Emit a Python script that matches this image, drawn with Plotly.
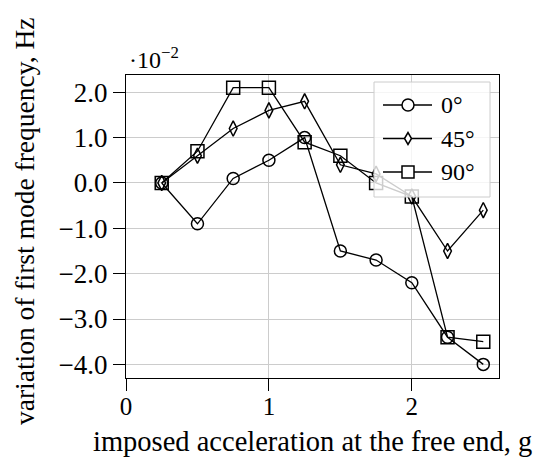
import plotly.graph_objects as go

# Imposed acceleration at the free end (g)
accel = [0.25, 0.5, 0.75, 1.0, 1.25, 1.5, 1.75, 2.0, 2.25, 2.5]

# Variation of first mode frequency (x 1e-2 Hz) per orientation
freq_0 = [0.0, -0.9, 0.1, 0.5, 1.0, -1.5, -1.7, -2.2, -3.4, -4.0]
freq_45 = [0.0, 0.6, 1.2, 1.6, 1.8, 0.4, 0.2, -0.3, -1.5, -0.6]
freq_90 = [0.0, 0.7, 2.1, 2.1, 0.9, 0.6, 0.0, -0.3, -3.4, -3.5]

series_names = ["0°", "45°", "90°"]
y_ticks = [-4, -3, -2, -1, 0, 1, 2]
x_ticks = [0, 1, 2]

FONT = "Liberation Serif"
W, H = 544, 459
ML, MR, MT, MB = 126, 45, 75, 81
PW, PH = W - ML - MR, H - MT - MB


def px_x(p):
    """Pixel column -> paper x."""
    return (p - ML) / PW


def px_y(p):
    """Pixel row -> paper y."""
    return 1 - (p - MT) / PH


fig = go.Figure()
styles = [
    ("circle-open", 12),
    ("diamond-tall-open", 11),
    ("square-open", 13),
]
for name, ys, (sym, size) in zip(series_names, [freq_0, freq_45, freq_90], styles):
    fig.add_trace(go.Scatter(
        x=accel, y=ys, name=name, mode="lines+markers",
        line=dict(color="black", width=1.3),
        marker=dict(symbol=sym, size=size, color="black",
                    line=dict(color="black", width=1.5)),
        showlegend=False,
    ))

# Legend drawn as shapes so the sample lines can be as long as pgfplots ones
shapes = [dict(type="rect", xref="paper", yref="paper",
               x0=px_x(374), x1=px_x(490), y0=px_y(197), y1=px_y(82),
               fillcolor="rgba(255,255,255,0.8)", line=dict(color="#cccccc", width=1),
               layer="above")]
annotations = []
rows = [105, 138.5, 172]
mx = px_x(408)
blk = dict(color="black", width=1.5)
for name, ry in zip(series_names, rows):
    yy = px_y(ry)
    shapes.append(dict(type="line", xref="paper", yref="paper",
                       x0=px_x(383), x1=px_x(432), y0=yy, y1=yy,
                       line=dict(color="black", width=1.3), layer="above"))
    annotations.append(dict(text=name, xref="paper", yref="paper",
                            x=px_x(439), y=yy, xanchor="left", yanchor="middle",
                            showarrow=False, font=dict(family=FONT, size=24)))
# sample markers
y0, y1, y2 = (px_y(r) for r in rows)
shapes.append(dict(type="circle", xref="paper", yref="paper",
                   xsizemode="pixel", ysizemode="pixel", xanchor=mx, yanchor=y0,
                   x0=-6, x1=6, y0=-6, y1=6, fillcolor="white", line=blk, layer="above"))
shapes.append(dict(type="path", xref="paper", yref="paper",
                   xsizemode="pixel", ysizemode="pixel", xanchor=mx, yanchor=y1,
                   path="M -3.5 0 L 0 6 L 3.5 0 L 0 -6 Z",
                   fillcolor="white", line=blk, layer="above"))
shapes.append(dict(type="rect", xref="paper", yref="paper",
                   xsizemode="pixel", ysizemode="pixel", xanchor=mx, yanchor=y2,
                   x0=-6, x1=6, y0=-6, y1=6, fillcolor="white", line=blk, layer="above"))

annotations += [
    dict(text="·10<sup>−2</sup>", xref="paper", yref="paper",
         x=px_x(127), y=1.0, xanchor="left", yanchor="bottom", showarrow=False,
         font=dict(family=FONT, size=24)),
    dict(text="imposed acceleration at the free end, g",
         xref="paper", yref="paper", x=0.5, y=px_y(441),
         xanchor="center", yanchor="middle", showarrow=False,
         font=dict(family=FONT, size=28.5)),
    dict(text="variation of first mode frequency, Hz",
         xref="paper", yref="paper", x=px_x(24), y=px_y(221), textangle=-90,
         xanchor="center", yanchor="middle", showarrow=False,
         font=dict(family=FONT, size=27.5)),
]

fig.update_layout(
    width=W, height=H,
    margin=dict(l=ML, r=MR, t=MT, b=MB),
    paper_bgcolor="white", plot_bgcolor="white",
    font=dict(family=FONT, size=27, color="black"),
    showlegend=False,
    xaxis=dict(
        range=[0, 2.61], tickvals=x_ticks, ticktext=[str(v) for v in x_ticks],
        tickfont=dict(family=FONT, size=25),
        showgrid=True, gridcolor="#cccccc", gridwidth=1,
        showline=True, linecolor="black", linewidth=1.2, mirror=True,
        ticks="outside", ticklen=12, tickcolor="black",
        ticklabelstandoff=-6, zeroline=False,
    ),
    yaxis=dict(
        range=[-4.3, 2.38], tickvals=y_ticks,
        ticktext=[f"{v:.1f}".replace("-", "\u2212") for v in y_ticks],
        showgrid=True, gridcolor="#cccccc", gridwidth=1,
        showline=True, linecolor="black", linewidth=1.2, mirror=True,
        ticks="outside", ticklen=12, tickcolor="black",
        zeroline=False,
    ),
    shapes=shapes,
    annotations=annotations,
)

fig.write_html("out.html")
